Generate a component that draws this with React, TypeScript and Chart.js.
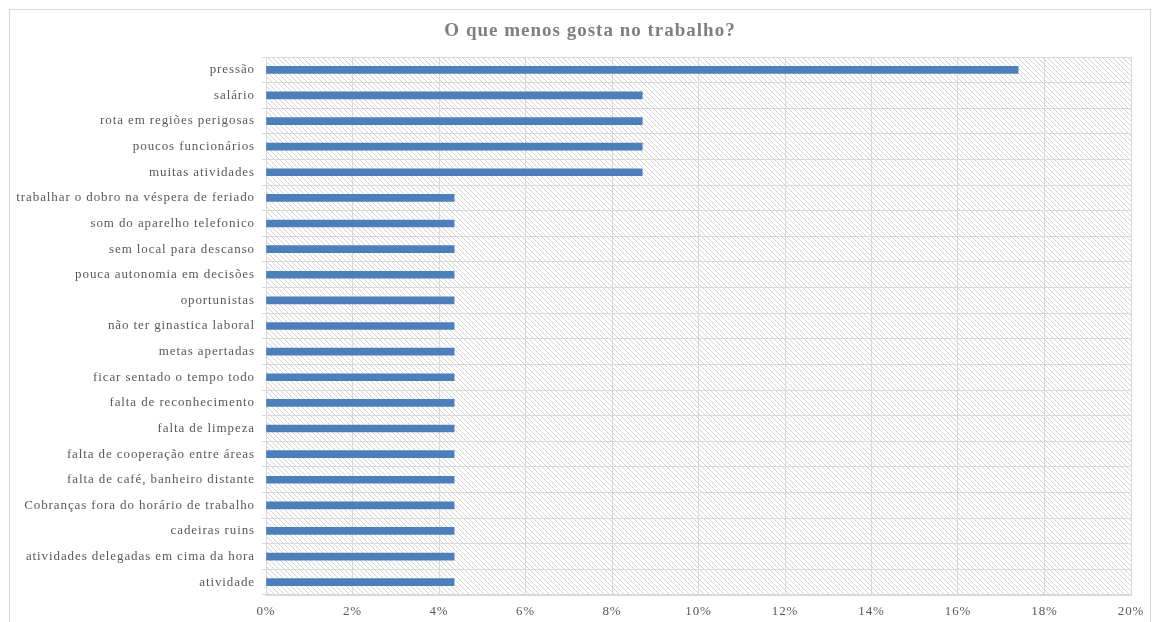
import React, { useEffect, useRef } from "react";
import { Chart, registerables } from "chart.js";

Chart.register(...registerables);

const title = "O que menos gosta no trabalho?";
const categories = [
  "pressão",
  "salário",
  "rota em regiões perigosas",
  "poucos funcionários",
  "muitas atividades",
  "trabalhar o dobro na véspera de feriado",
  "som do aparelho telefonico",
  "sem local para descanso",
  "pouca autonomia em decisões",
  "oportunistas",
  "não ter ginastica laboral",
  "metas apertadas",
  "ficar sentado o tempo todo",
  "falta de reconhecimento",
  "falta de limpeza",
  "falta de cooperação entre áreas",
  "falta de café, banheiro distante",
  "Cobranças fora do horário de trabalho",
  "cadeiras ruins",
  "atividades delegadas em cima da hora",
  "atividade",
];
const values = [
  0.1739, 0.087, 0.087, 0.087, 0.087, 0.0435, 0.0435, 0.0435, 0.0435, 0.0435,
  0.0435, 0.0435, 0.0435, 0.0435, 0.0435, 0.0435, 0.0435, 0.0435, 0.0435,
  0.0435, 0.0435,
];
const xTicks = [0, 0.02, 0.04, 0.06, 0.08, 0.1, 0.12, 0.14, 0.16, 0.18, 0.2];

const FONT = "'Liberation Serif', 'Times New Roman', serif";

function makePattern(): CanvasPattern | string {
  const c = document.createElement("canvas");
  c.width = 5;
  c.height = 5;
  const g = c.getContext("2d");
  if (!g) return "#f4f4f4";
  g.fillStyle = "#ffffff";
  g.fillRect(0, 0, 5, 5);
  g.fillStyle = "#d4d4d4";
  for (let i = 0; i < 5; i++) g.fillRect(i, i, 1, 1);
  return g.createPattern(c, "repeat") || "#f4f4f4";
}

export default function App() {
  const ref = useRef<HTMLCanvasElement>(null);
  useEffect(() => {
    document.body.style.margin = "0";
    const canvas = ref.current!;
    const pattern = makePattern();
    const deco = {
      id: "deco",
      beforeDraw(chart: any) {
        const { ctx, chartArea } = chart;
        ctx.save();
        ctx.fillStyle = "#ffffff";
        ctx.fillRect(0, 0, chart.width, chart.height);
        ctx.strokeStyle = "#d9d9d9";
        ctx.lineWidth = 1;
        ctx.strokeRect(9.5, 9.5, 1141, 620);
        ctx.fillStyle = pattern;
        ctx.fillRect(
          chartArea.left,
          chartArea.top,
          chartArea.right - chartArea.left,
          chartArea.bottom - chartArea.top
        );
        ctx.fillStyle = "#7f7f7f";
        ctx.font = `bold 19px ${FONT}`;
        (ctx as any).letterSpacing = "1px";
        ctx.textAlign = "center";
        ctx.textBaseline = "middle";
        ctx.fillText(title, 590, 31);
        ctx.restore();
        (ctx as any).letterSpacing = "0.9px";
      },
    };
    const chart = new Chart(canvas, {
      type: "bar",
      data: {
        labels: categories,
        datasets: [
          {
            data: values,
            backgroundColor: "#4f7fba",
            barThickness: 7,
          },
        ],
      },
      options: {
        indexAxis: "y",
        animation: false,
        responsive: false,
        maintainAspectRatio: false,
        layout: { padding: { top: 57, right: 23, bottom: 0, left: 0 } },
        plugins: {
          legend: { display: false },
          title: { display: false },
          tooltip: { enabled: false },
        },
        scales: {
          x: {
            min: 0,
            max: 0.2,
            afterBuildTicks(scale: any) {
              scale.ticks = xTicks.map((v) => ({ value: v }));
            },
            afterFit(scale: any) {
              scale.height = 27;
            },
            grid: { color: "#d9d9d9", drawTicks: false },
            border: { color: "#d9d9d9" },
            ticks: {
              padding: 9,
              color: "#595959",
              font: { family: FONT, size: 13 },
              callback: (v: any) => `${Math.round(Number(v) * 100)}%`,
            },
          },
          y: {
            afterFit(scale: any) {
              scale.width = 266;
            },
            grid: { color: "#d9d9d9", tickLength: 4 },
            border: { color: "#d9d9d9" },
            ticks: {
              padding: 7,
              color: "#595959",
              font: { family: FONT, size: 13 },
              autoSkip: false,
            },
          },
        },
      },
      plugins: [deco],
    });
    return () => chart.destroy();
  }, []);
  return <canvas ref={ref} width={1154} height={622} style={{ display: "block" }} />;
}
